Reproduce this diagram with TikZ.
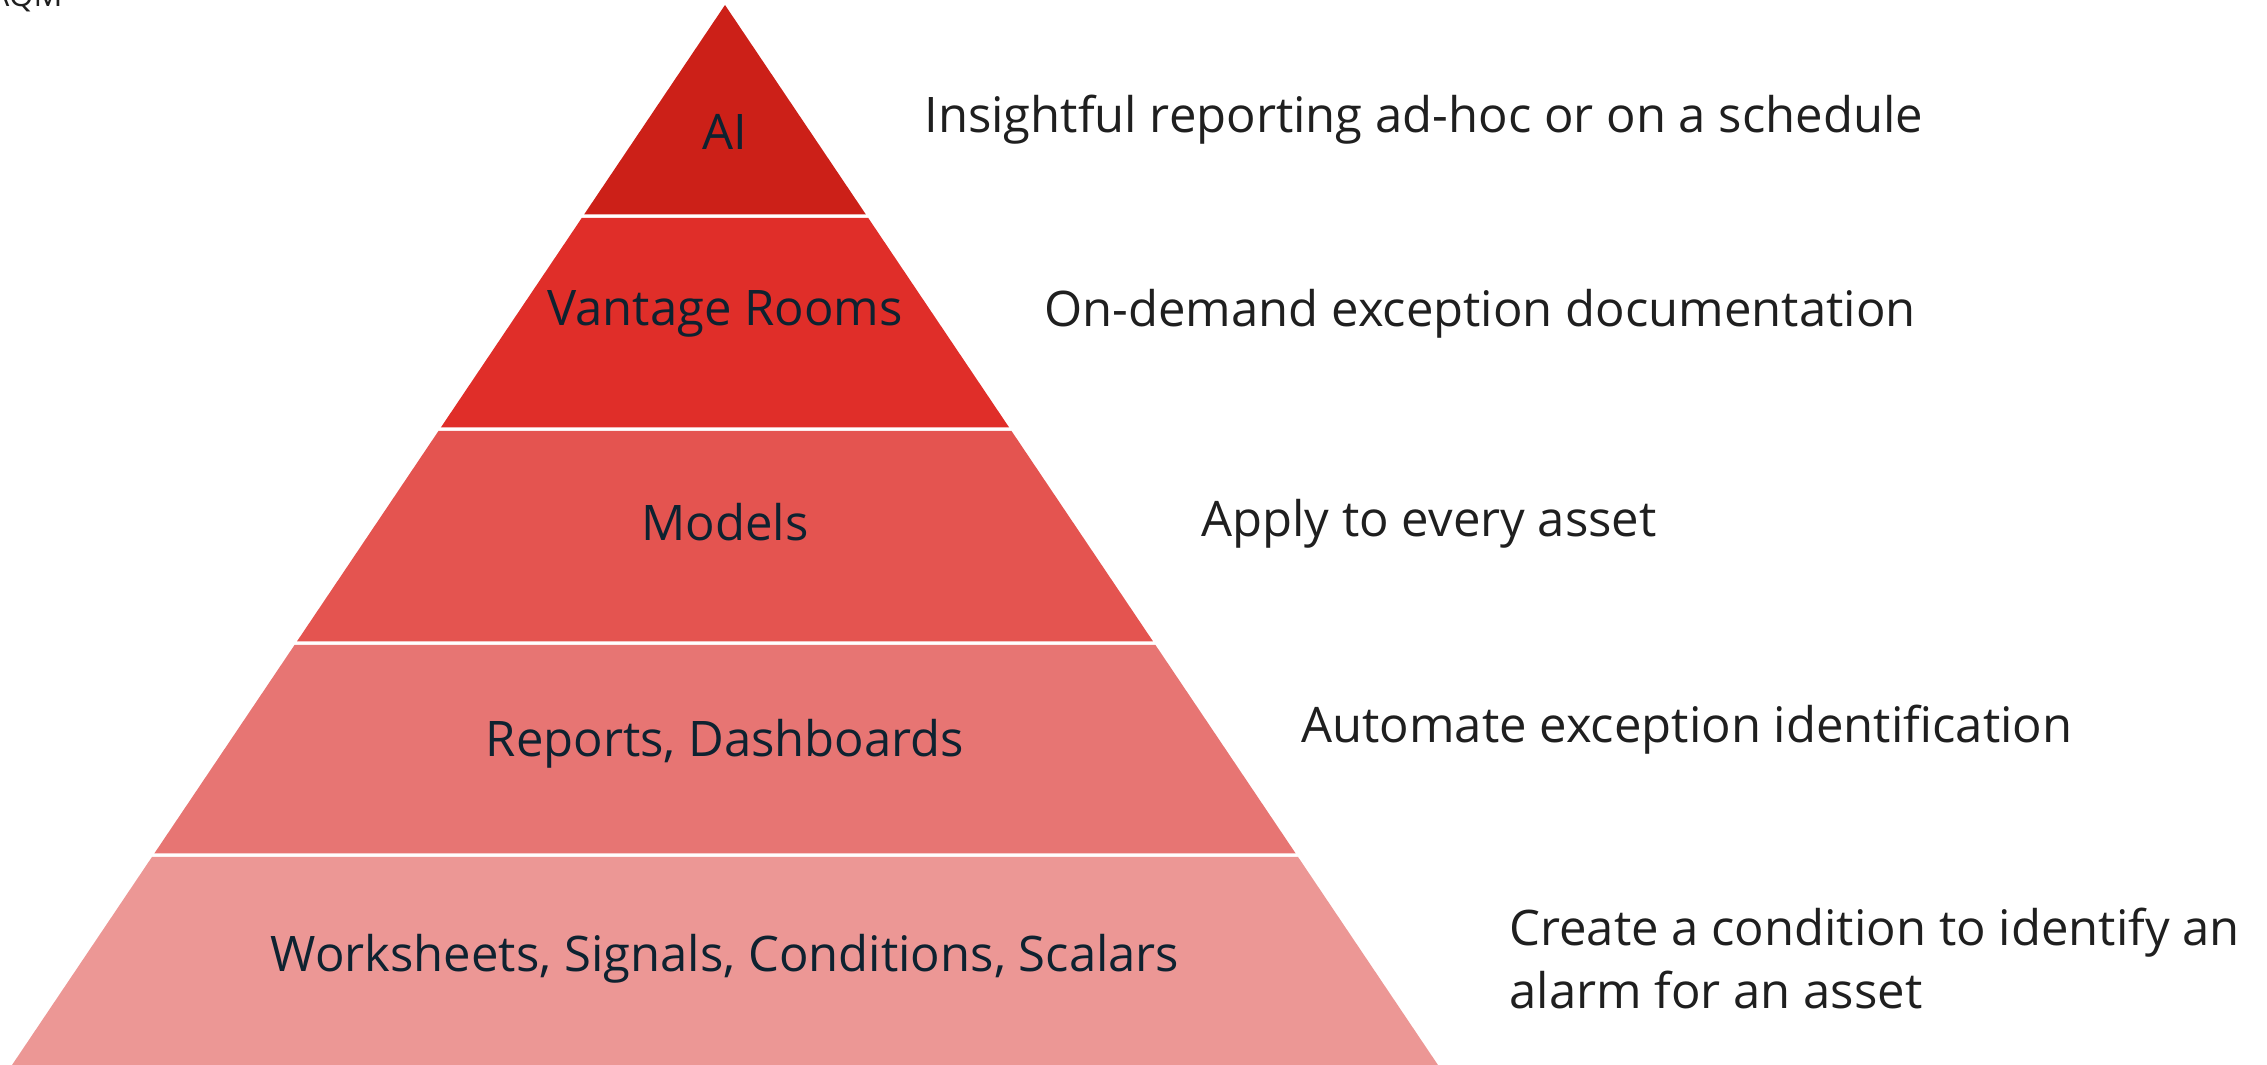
\documentclass[tikz,border=0pt]{standalone}
\usepackage{fontspec}
\setmainfont{Open Sans}
\definecolor{cAI}{HTML}{CC2018}
\definecolor{cVR}{HTML}{E02E29}
\definecolor{cMO}{HTML}{E45450}
\definecolor{cRD}{HTML}{E77573}
\definecolor{cWS}{HTML}{EC9795}
\definecolor{labcol}{HTML}{0E2230}
\definecolor{desccol}{HTML}{1F1F1F}
\begin{document}
\begin{tikzpicture}[x=0.5pt,y=-0.5pt,
  lab/.style={font=\fontsize{24.5}{29}\selectfont, text=labcol, anchor=base, inner sep=0pt},
  desc/.style={font=\fontsize{24.5}{31.5}\selectfont, text=desccol, anchor=base west, inner sep=0pt, align=left}]
\useasboundingbox (0,0) rectangle (2267,1065);
\newcommand\pyrlayer[3]{\fill[#3] ({725-0.6726*(#1-5)},#1) -- ({725+0.6726*(#1-5)},#1) -- ({725+0.6726*(#2-5)},#2) -- ({725-0.6726*(#2-5)},#2) -- cycle;}
% layers
\fill[cAI] (725,5) -- ({725+0.6726*(214.3-5)},214.3) -- ({725-0.6726*(214.3-5)},214.3) -- cycle;
\pyrlayer{217.8}{427.3}{cVR}
\pyrlayer{430.8}{641.3}{cMO}
\pyrlayer{644.8}{853.3}{cRD}
\pyrlayer{856.8}{1066}{cWS}
% labels
\node[lab] (ai) at (725,150) {AI};
\node[lab] (vr) at (725,325) {Vantage Rooms};
\node[lab] (mo) at (725,540) {Models};
\node[lab] (rd) at (725,756) {Reports, Dashboards};
\node[lab] (ws) at (725,971) {Worksheets, Signals, Conditions, Scalars};
% descriptions
\node[desc] (d1) at (924,133) {Insightful reporting ad-hoc or on a schedule};
\node[desc] (d2) at (1044,326) {On-demand exception documentation};
\node[desc] (d3) at (1201,536) {Apply to every asset};
\node[desc] (d4) at (1301,742) {Automate exception identification};
\node[desc] (d5) at (1509,1008) {Create a condition to identify an\\alarm for an asset};
\node[font=\fontsize{16}{19}\selectfont, text=desccol, anchor=base east, inner sep=0pt] (aqm) at (63,7) {AQM};
\end{tikzpicture}
\end{document}
